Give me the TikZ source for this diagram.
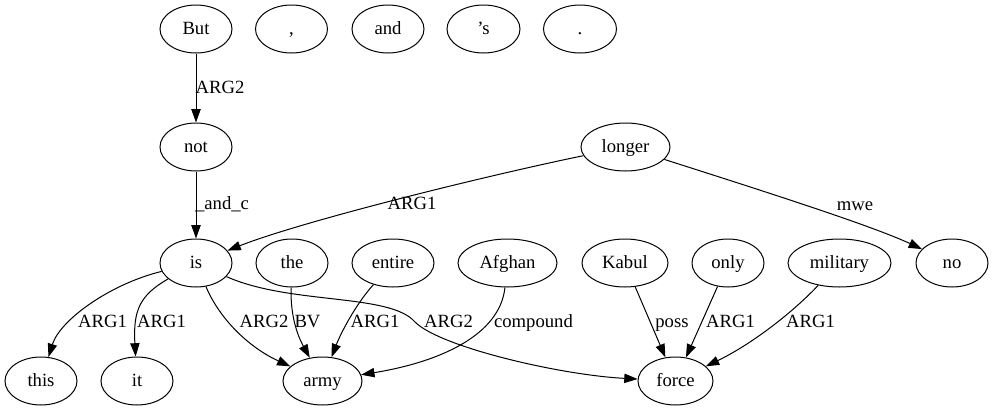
\documentclass[tikz,border=0pt]{standalone}
\usepackage{fontspec}
\setmainfont{Liberation Serif}
\usetikzlibrary{shapes.geometric,arrows.meta}
\begin{document}
\begin{tikzpicture}[x=0.75pt,y=-0.75pt,
  every node/.style={font=\fontsize{14}{16}\selectfont,text height=11.3pt,text depth=3pt},
  nd/.style={draw,ellipse,line width=0.75pt,inner sep=0pt,minimum height=36pt,minimum width=#1*0.75pt},
  nd/.default=72,
  lab/.style={inner sep=0pt},
  e/.style={draw,line width=0.75pt,-{Triangle[length=10pt,width=7pt]}}]
\useasboundingbox (0,0) rectangle (993,411);
% row 1
\node[nd] (but) at (196,29) {But};
\node[nd] (comma) at (291.5,29) {,};
\node[nd] (and) at (388,29) {and};
\node[nd=73] (aps) at (483.5,29) {’s};
\node[nd=73] (dot) at (580,29) {.};
% row 2
\node[nd] (not) at (196,147) {not};
\node[nd=89] (longer) at (625.5,147) {longer};
% row 3
\node[nd] (is) at (196,263) {is};
\node[nd] (the) at (292,263) {the};
\node[nd=82] (entire) at (393,263) {entire};
\node[nd=99] (afghan) at (507.5,263) {Afghan};
\node[nd=86] (kabul) at (625,263) {Kabul};
\node[nd] (only) at (728,263) {only};
\node[nd=103] (military) at (839.5,263) {military};
\node[nd] (no) at (952,263) {no};
% row 4
\node[nd] (this) at (41,381) {this};
\node[nd] (it) at (137,381) {it};
\node[nd=79] (army) at (322.5,381) {army};
\node[nd=75] (force) at (675.5,381) {force};
% edges
\draw[e] (but) -- (not);
\node[lab] (l1) at (220,88) {ARG2};
\draw[e] (not) -- (is);
\node[lab] (l2) at (222,204) {\_and\_c};
\draw[e] (longer) .. controls (480,177) and (300,222) .. (is);
\node[lab] (l3) at (412,204) {ARG1};
\draw[e] (longer) .. controls (760,190) and (870,225) .. (no);
\node[lab] (l4) at (855,205) {mwe};
\draw[e] (is) .. controls (110,284) and (60,320) .. (this);
\node[lab] (l5) at (102.5,322) {ARG1};
\draw[e] (is) .. controls (140,295) and (133,310) .. (it);
\node[lab] (l6) at (161.5,322) {ARG1};
\draw[e] (is) .. controls (220,320) and (250,348) .. (army);
\node[lab] (l7) at (264,322) {ARG2};
\draw[e] (the) .. controls (290,320) and (300,340) .. (army);
\node[lab] (l8) at (307.5,322) {BV};
\draw[e] (entire) .. controls (355,305) and (340,335) .. (army);
\node[lab] (l9) at (375,322) {ARG1};
\draw[e] (afghan) .. controls (500,335) and (440,362) .. (army);
\node[lab] (l10) at (533.5,322) {compound};
\coordinate (k) at (415,322);
\draw[e] (is) .. controls (290,305) and (390,293) .. (k) .. controls (440,347) and (560,375) .. (force);
\node[lab] (l11) at (448.5,322) {ARG2};
\draw[e] (kabul) -- (force);
\node[lab] (l12) at (672,322) {poss};
\draw[e] (only) -- (force);
\node[lab] (l13) at (730.5,322) {ARG1};
\draw[e] (military) .. controls (790,315) and (750,345) .. (force);
\node[lab] (l14) at (810.5,322) {ARG1};
\end{tikzpicture}
\end{document}
